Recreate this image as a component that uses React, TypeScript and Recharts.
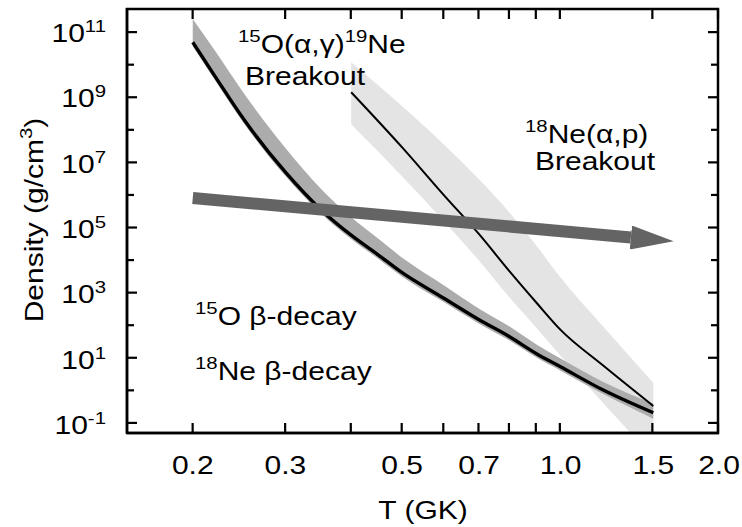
import React from 'react'
import { ComposedChart, Area, Line, XAxis, YAxis } from 'recharts'

// temperature grid (GK) for the 15O(a,g) curve and its band
const tA = [0.2, 0.22, 0.25, 0.3, 0.35, 0.4, 0.45, 0.5, 0.6, 0.7, 0.8, 0.9, 1.0, 1.2, 1.5]
// log10 density (g/cm3)
const logRhoA = [10.66, 9.64, 8.3, 6.68, 5.54, 4.75, 4.15, 3.6, 2.82, 2.16, 1.64, 1.12, 0.72, 0.02, -0.69]
const logHiA = [11.37, 10.42, 9.1, 7.42, 6.18, 5.3, 4.65, 4.06, 3.22, 2.5, 1.95, 1.4, 0.97, 0.27, -0.41]
const logLoA = [10.54, 9.52, 8.18, 6.56, 5.42, 4.63, 4.03, 3.48, 2.7, 2.04, 1.52, 1.0, 0.6, -0.1, -0.87]

// 18Ne(a,p) curve and its band
const tB = [0.4, 0.5, 0.6, 0.7, 0.8, 0.9, 1.0, 1.2, 1.5]
const logRhoB = [9.13, 7.44, 5.98, 4.78, 3.64, 2.68, 1.85, 0.78, -0.48]
const logHiB = [10.05, 8.7, 7.53, 6.46, 5.44, 4.43, 3.45, 1.98, 0.23]
const logLoB = [8.15, 6.55, 5.18, 3.97, 2.84, 1.91, 1.06, -0.36, -2.07]

// arrow (start, head base)
const arrowT = [0.2, 1.36]
const arrowLogRho = [5.89, 4.68]

const xTicks = [0.2, 0.3, 0.4, 0.5, 0.6, 0.7, 0.8, 0.9, 1.0, 1.5, 2.0]
const xLabels = [0.2, 0.3, 0.5, 0.7, 1.0, 1.5, 2.0]
const yExps = [-1, 0, 1, 2, 3, 4, 5, 6, 7, 8, 9, 10, 11]

const p10 = (v: number) => Math.pow(10, v)

const X_LOG = [Math.log10(0.15), Math.log10(2.0)]
const Y_LOG = [-1.31, 11.71]
const xDomain = X_LOG.map(p10)
const yDomain = Y_LOG.map(p10)
const yTicks = yExps.map(p10)

const curveA = tA.map((T, i) => ({ T, rho: p10(logRhoA[i]), band: [p10(logLoA[i]), p10(logHiA[i])] }))
const curveB = tB.map((T, i) => ({ T, rho: p10(logRhoB[i]), band: [p10(logLoB[i]), p10(logHiB[i])] }))
const arrow = arrowT.map((T, i) => ({ T, rho: p10(arrowLogRho[i]) }))

// plot box (follows from the chart margins below)
const W = 742
const H = 527
const M = { top: 8, right: 23, bottom: 93, left: 126 }
const box = { l: M.left + 1, t: M.top + 1, r: W - M.right - 1, b: H - M.bottom - 1 }
const px = (T: number) => box.l + ((Math.log10(T) - X_LOG[0]) / (X_LOG[1] - X_LOG[0])) * (box.r - box.l)
const py = (e: number) => box.b - ((e - Y_LOG[0]) / (Y_LOG[1] - Y_LOG[0])) * (box.b - box.t)

const FONT = '"Liberation Sans", Arial, Helvetica, sans-serif'
const SX = 1.2
const TW = 2.2

function SText({ x, y, anchor = 'start', size = 25, rotate = 0, children }: any) {
  return (
    <text
      transform={`translate(${x},${y}) rotate(${rotate}) scale(${SX},1)`}
      textAnchor={anchor}
      fontFamily={FONT}
      fontSize={size}
      fill="#000"
    >
      {children}
    </text>
  )
}

const Sup = ({ children }: any) => (
  <tspan fontSize={17} dy={-11}>
    {children}
  </tspan>
)
const Base = ({ children }: any) => <tspan dy={11}>{children}</tspan>

function BottomTick({ x, y, payload }: any) {
  const v = payload.value
  if (!xLabels.some((l) => Math.abs(l - v) < 1e-6)) return <g />
  return (
    <SText x={x} y={y + 41} anchor="middle">
      {v.toFixed(1)}
    </SText>
  )
}

function LeftTick({ x, y, payload }: any) {
  const e = Math.round(Math.log10(payload.value))
  if (Math.abs(e) % 2 !== 1) return <g />
  return (
    <SText x={x - 21} y={y + 11} anchor="end">
      10<tspan fontSize={17} dy={-10}>{e}</tspan>
    </SText>
  )
}

const axisStyle = { stroke: '#000', strokeWidth: 2.5 }

function Overlay() {
  return (
    <svg width={W} height={H} style={{ position: 'absolute', left: 0, top: 0, pointerEvents: 'none' }}>
      <rect x={box.l} y={box.t} width={box.r - box.l} height={box.b - box.t} fill="none" stroke="#000" strokeWidth={2.5} />
      {xTicks.map((T) => (
        <g key={`xt${T}`}>
          <rect x={px(T) - TW / 2} y={box.b - 10} width={TW} height={10} fill="#000" />
          <rect x={px(T) - TW / 2} y={box.t} width={TW} height={10} fill="#000" />
        </g>
      ))}
      {yExps.map((e) => {
        const len = e % 2 === 0 ? 7 : 10
        return (
          <g key={`yt${e}`}>
            <rect x={box.l} y={py(e) - TW / 2} width={len} height={TW} fill="#000" />
            <rect x={box.r - len} y={py(e) - TW / 2} width={len} height={TW} fill="#000" />
          </g>
        )
      })}

      <SText x={238} y={53}>
        <Sup>15</Sup>
        <Base>O(α,γ)</Base>
        <Sup>19</Sup>
        <Base>Ne</Base>
      </SText>
      <SText x={245} y={85}>Breakout</SText>
      <SText x={525} y={143}>
        <Sup>18</Sup>
        <Base>Ne(α,p)</Base>
      </SText>
      <SText x={535} y={170}>Breakout</SText>
      <SText x={195} y={325}>
        <Sup>15</Sup>
        <Base>O β-decay</Base>
      </SText>
      <SText x={195} y={380}>
        <Sup>18</Sup>
        <Base>Ne β-decay</Base>
      </SText>

      <SText x={423} y={519} anchor="middle">T (GK)</SText>
      <SText x={43} y={220} anchor="middle" rotate={-90}>
        Density (g/cm<Sup>3</Sup>
        <Base>)</Base>
      </SText>
    </svg>
  )
}

export default function App() {
  return (
    <div style={{ position: 'absolute', left: 0, top: 0, width: W, height: H, background: '#fff' }}>
      <ComposedChart width={W} height={H} margin={M}>
        <defs>
          <marker
            id="arrowHead"
            viewBox="0 0 43 24"
            refX={0}
            refY={12}
            markerWidth={43}
            markerHeight={24}
            markerUnits="userSpaceOnUse"
            orient="auto"
          >
            <path d="M0,0 L43,12 L0,24 Z" fill="#646464" />
          </marker>
        </defs>
        <XAxis
          dataKey="T"
          type="number"
          scale="log"
          domain={xDomain}
          allowDataOverflow
          ticks={xTicks}
          interval={0}
          height={1}
          tickSize={0}
          tickMargin={0}
          tickLine={false}
          axisLine={axisStyle}
          tick={<BottomTick />}
        />
        <YAxis
          type="number"
          scale="log"
          domain={yDomain}
          allowDataOverflow
          ticks={yTicks}
          interval={0}
          width={1}
          tickSize={0}
          tickMargin={0}
          tickLine={false}
          axisLine={axisStyle}
          tick={<LeftTick />}
        />

        <Area data={curveB} dataKey="band" type="monotone" stroke="none" fill="#e4e4e4" fillOpacity={1} isAnimationActive={false} />
        <Area data={curveA} dataKey="band" type="monotone" stroke="none" fill="#acacac" fillOpacity={1} isAnimationActive={false} />
        <Line data={curveB} dataKey="rho" type="monotone" stroke="#000" strokeWidth={2} dot={false} isAnimationActive={false} />
        <Line data={curveA} dataKey="rho" type="monotone" stroke="#000" strokeWidth={3.4} dot={false} isAnimationActive={false} />
        <Line
          data={arrow}
          dataKey="rho"
          type="linear"
          stroke="#646464"
          strokeWidth={12}
          dot={false}
          markerEnd="url(#arrowHead)"
          isAnimationActive={false}
        />
      </ComposedChart>
      <Overlay />
    </div>
  )
}
